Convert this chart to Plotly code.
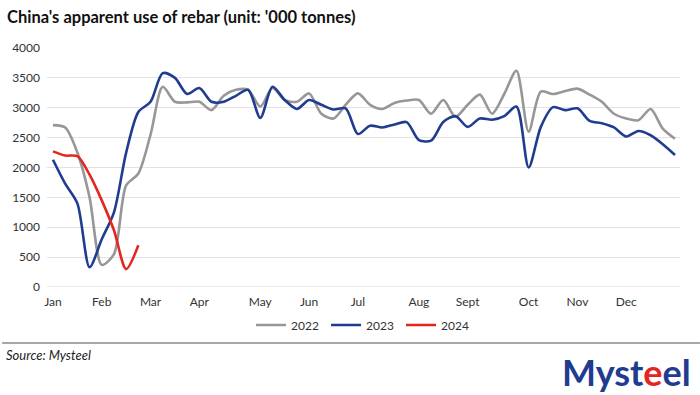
import plotly.graph_objects as go

weeks = list(range(52))
tick_pos = [0, 4, 8, 12, 17, 21, 25, 30, 34, 39, 43, 47]
tick_labels = ["Jan", "Feb", "Mar", "Apr", "May", "Jun", "Jul", "Aug", "Sept", "Oct", "Nov", "Dec"]

y2022 = [2710, 2670, 2250, 1500, 370, 550, 1700, 1900, 2550, 3350,
         3100, 3090, 3100, 2960, 3200, 3300, 3300, 3020, 3330, 3130,
         3100, 3240, 2900, 2820, 3050, 3240, 3050, 2980, 3080, 3120,
         3130, 2900, 3130, 2850, 3050, 3220, 2900, 3230, 3620, 2600,
         3270, 3230, 3280, 3320, 3220, 3100, 2900, 2820, 2790, 2980,
         2650, 2480]
y2023 = [2130, 1730, 1400, 330, 800, 1250, 2250, 2930, 3100, 3580,
         3500, 3230, 3330, 3100, 3100, 3200, 3300, 2830, 3350, 3130,
         2980, 3130, 3050, 2970, 2990, 2560, 2700, 2670, 2720, 2760,
         2460, 2450, 2760, 2860, 2680, 2820, 2800, 2860, 3020, 2000,
         2680, 3010, 2960, 2990, 2780, 2740, 2670, 2520, 2610, 2540,
         2390, 2210]
weeks2024 = list(range(8))
y2024 = [2270, 2200, 2190, 1880, 1450, 950, 300, 700]

series = [("2022", weeks, y2022, "#979797"),
          ("2023", weeks, y2023, "#1f3c91"),
          ("2024", weeks2024, y2024, "#e3261f")]

fig = go.Figure()
for name, xs, ys, col in series:
    fig.add_trace(go.Scatter(x=xs, y=ys, name=name, mode="lines",
                             line=dict(color=col, width=2.6, shape="spline", smoothing=0.8)))

L, R, T, B = 45, 20, 48, 108
pw, ph = 700 - L - R, 395 - T - B


def py(ypix):
    return -(ypix - T - ph) / ph


fig.update_layout(
    width=700, height=395,
    margin=dict(l=L, r=R, t=T, b=B),
    paper_bgcolor="white", plot_bgcolor="white",
    font=dict(family="Lato", size=12, color="#333333"),
    showlegend=True,
    legend=dict(orientation="h", x=0.5, xanchor="center", y=py(325), yanchor="middle",
                font=dict(size=12, color="#333333"), entrywidth=30, entrywidthmode="pixels",
                tracegroupgap=0, itemwidth=30),
    xaxis=dict(range=[-0.49, 51.41], tickmode="array", tickvals=tick_pos, ticktext=tick_labels,
               showgrid=False, zeroline=False, showline=False, ticks="", tickfont=dict(size=12),
               ticklabelstandoff=6),
    yaxis=dict(range=[0, 4000], dtick=500, showgrid=True, gridcolor="#e3e3e3", gridwidth=1,
               zeroline=False, showline=False, ticks="", tickfont=dict(size=12), ticklabelstandoff=6),
    annotations=[
        dict(text="<b>China's apparent use of rebar (unit: '000 tonnes)</b>", xref="paper", yref="paper",
             x=-L / pw + 3 / pw, y=py(17), xanchor="left", yanchor="middle", showarrow=False,
             font=dict(size=16.5, color="#111111")),
        dict(text="<i>Source: Mysteel</i>", xref="paper", yref="paper",
             x=-L / pw + 2 / pw, y=py(355), xanchor="left", yanchor="middle", showarrow=False,
             font=dict(size=13, color="#222222")),
        dict(text="<b>Myst<span style='color:#e3261f'>e</span>el</b>", xref="paper", yref="paper",
             x=1 + (R - 7) / pw, y=py(372), xanchor="right", yanchor="middle", showarrow=False,
             font=dict(size=36, color="#1f3c91", family="Lato")),
    ],
    shapes=[
        dict(type="line", xref="paper", yref="paper", x0=-L / pw, x1=1 + R / pw,
             y0=py(343), y1=py(343), line=dict(color="#8a8a8a", width=1.5)),
        dict(type="line", xref="paper", yref="y", x0=0, x1=1, y0=0, y1=0,
             line=dict(color="#d5d5d5", width=1)),
    ],
)

fig.write_html("out.html", config={"displayModeBar": False},
               post_script="document.body.style.margin='0px';")
